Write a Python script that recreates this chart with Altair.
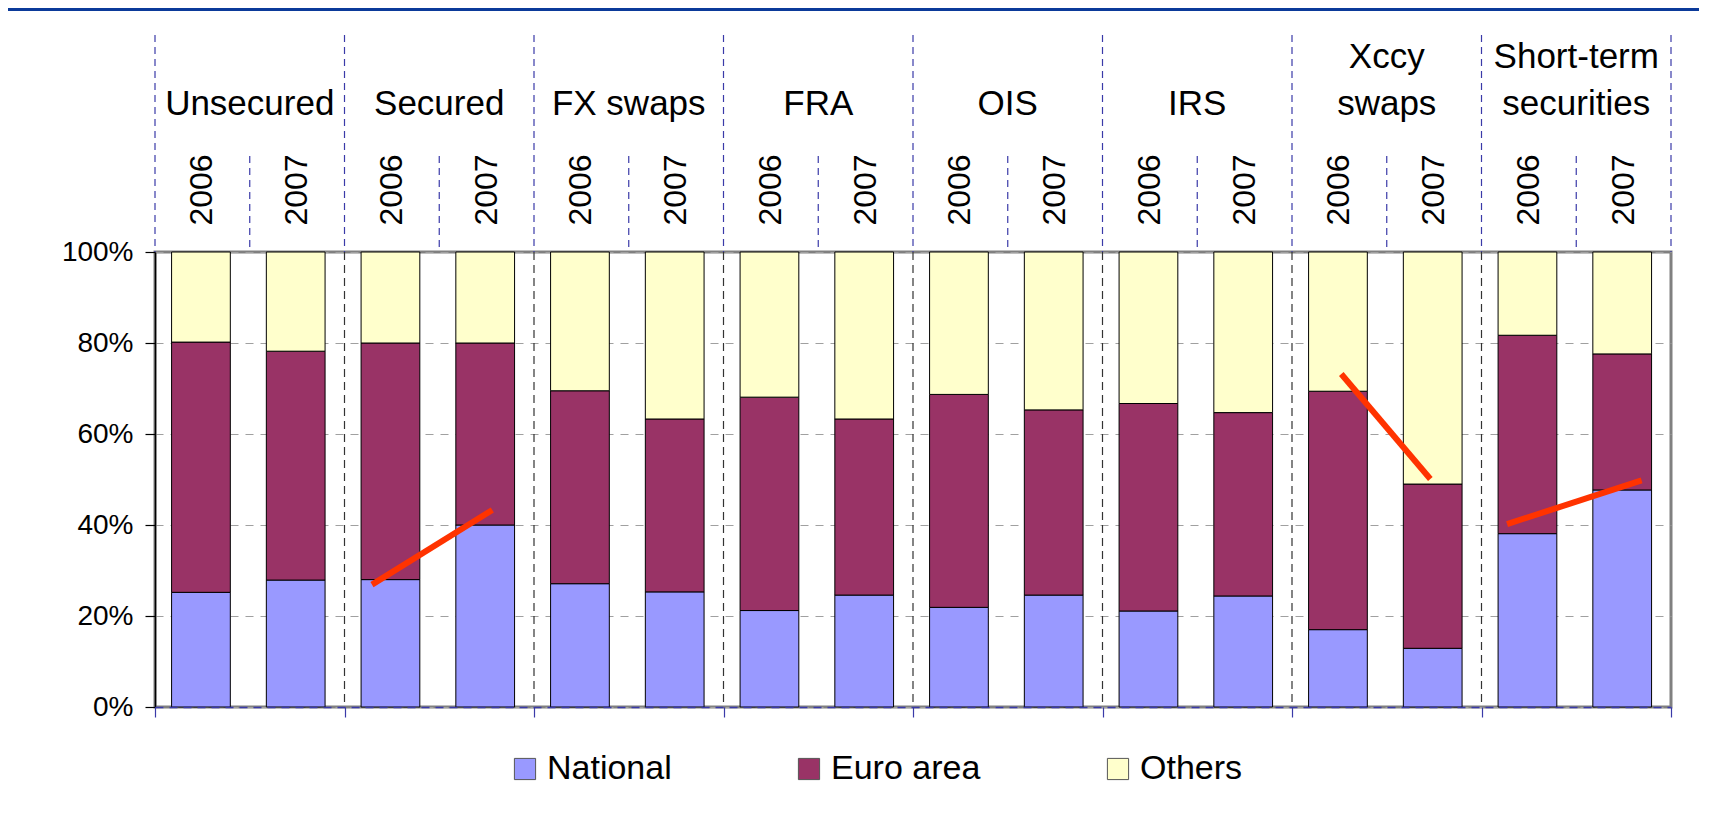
import altair as alt
import pandas as pd

# ---------------- data ----------------
categories = ["Unsecured", "Secured", "FX swaps", "FRA", "OIS", "IRS",
              "Xccy swaps", "Short-term securities"]
header_line1 = ["", "", "", "", "", "", "Xccy", "Short-term"]
header_line2 = ["Unsecured", "Secured", "FX swaps", "FRA", "OIS", "IRS",
                "swaps", "securities"]
years = ["2006", "2007"]
series = ["National", "Euro area", "Others"]
colors = ["#9999FF", "#993366", "#FFFFCC"]

# shares in %, one value per (category, year) in order
national = [25.2, 27.9, 28.0, 40.0, 27.1, 25.3, 21.2, 24.6,
            21.9, 24.6, 21.1, 24.4, 17.0, 12.9, 38.1, 47.7]
euro_area = [55.0, 50.3, 52.0, 40.0, 42.4, 38.0, 46.9, 38.7,
             46.8, 40.7, 45.6, 40.3, 52.4, 36.1, 43.6, 29.9]
others = [19.8, 21.8, 20.0, 20.0, 30.5, 36.7, 31.9, 36.7,
          31.3, 34.7, 33.3, 35.3, 30.6, 51.0, 18.3, 22.4]

# red trend annotations (position in bar slots, value in %)
trend_group = ["Secured", "Secured", "Xccy swaps", "Xccy swaps",
               "Short-term securities", "Short-term securities"]
trend_pos = [2.29, 3.56, 12.52, 13.46, 14.27, 15.69]
trend_val = [26.9, 43.3, 73.2, 50.1, 40.2, 49.8]

# ---------------- tables ----------------
rows = []
for g, cat in enumerate(categories):
    for j, yr in enumerate(years):
        idx = 2 * g + j
        for k, (s, vals) in enumerate(zip(series, [national, euro_area, others])):
            rows.append({"category": cat, "year": yr, "idx": idx,
                         "series": s, "order": k, "value": vals[idx]})
bars_df = pd.DataFrame(rows)

year_df = pd.DataFrame([{"pos": 2 * g + j + 0.5, "year": yr}
                        for g in range(len(categories)) for j, yr in enumerate(years)])
head_df = pd.DataFrame({"pos": [2 * g + 1 for g in range(len(categories))],
                        "l1": header_line1, "l2": header_line2})
group_df = pd.DataFrame({"pos": [2 * g for g in range(len(categories) + 1)]})
inner_df = pd.DataFrame({"pos": [2 * g for g in range(1, len(categories))]})
sub_df = pd.DataFrame({"pos": [2 * g + 1 for g in range(len(categories))]})
trend_df = pd.DataFrame({"group": trend_group, "pos": trend_pos, "val": trend_val})

# ---------------- layout ----------------
W, H = 1516, 455
PAD = {"left": 147, "top": 244, "right": 28, "bottom": 80}
FONT = "Liberation Sans"
BLUE = "#3A3AA8"

xs = alt.Scale(domain=[0, 16], nice=False, zero=False)
ys = alt.Scale(domain=[0, 100], nice=False)

x_axis = alt.Axis(values=list(range(0, 17, 2)), labels=False, title=None, grid=False,
                  tickColor=BLUE, tickSize=10, tickWidth=1.2,
                  domainColor=BLUE, domainDash=[8, 6], domainWidth=1.5, zindex=1)
y_axis = alt.Axis(values=[0, 20, 40, 60, 80, 100], title=None,
                  labelExpr="datum.value + '%'", labelFont=FONT, labelFontSize=28,
                  labelColor="black", labelPadding=12,
                  tickColor="black", tickSize=10, tickWidth=1.2,
                  domainColor="black", domainWidth=1.5,
                  grid=True, gridColor="#A0A0A0", gridDash=[8, 7], gridWidth=1.2)


def X(field):
    return alt.X(field, type="quantitative", scale=xs, axis=x_axis)


bars = alt.Chart(bars_df).transform_stack(
    stack="value", groupby=["idx"], as_=["y0", "y1"],
    sort=[alt.SortField("order", order="ascending")]
).transform_calculate(
    x0="datum.idx + 0.175", x1="datum.idx + 0.795"
).mark_rect(stroke="black", strokeWidth=1).encode(
    x=X("x0"), x2="x1:Q",
    y=alt.Y("y0:Q", scale=ys, axis=y_axis), y2="y1:Q",
    color=alt.Color("series:N",
                    scale=alt.Scale(domain=series, range=colors),
                    sort=series,
                    legend=alt.Legend(orient="none", legendX=353, legendY=500,
                                      direction="horizontal", title=None,
                                      symbolType="square", symbolSize=450,
                                      symbolStrokeColor="#555555", symbolStrokeWidth=1,
                                      symbolOpacity=1,
                                      labelFont=FONT, labelFontSize=34,
                                      labelColor="black", labelOffset=5,
                                      columnPadding=120, labelLimit=400)),
)

inner_rules = alt.Chart(inner_df).mark_rule(color="#333333", strokeWidth=1.2,
                                            strokeDash=[8, 5]).encode(
    x=X("pos"), y=alt.value(0), y2=alt.value(H))

group_rules = alt.Chart(group_df).mark_rule(color=BLUE, strokeWidth=1.2,
                                            strokeDash=[7, 5]).encode(
    x=X("pos"), y=alt.value(-217), y2=alt.value(0))

sub_rules = alt.Chart(sub_df).mark_rule(color=BLUE, strokeWidth=1.2,
                                        strokeDash=[7, 5]).encode(
    x=X("pos"), y=alt.value(-96), y2=alt.value(0))

year_text = alt.Chart(year_df).mark_text(font=FONT, fontSize=32, angle=270,
                                         align="center", baseline="middle",
                                         color="black").encode(
    x=X("pos"), y=alt.value(-62), text="year:N")

head2 = alt.Chart(head_df).mark_text(font=FONT, fontSize=35, align="center",
                                     baseline="middle", color="black").encode(
    x=X("pos"), y=alt.value(-148), text="l2:N")

head1 = alt.Chart(head_df).mark_text(font=FONT, fontSize=35, align="center",
                                     baseline="middle", color="black").encode(
    x=X("pos"), y=alt.value(-195), text="l1:N")

trend = alt.Chart(trend_df).mark_line(color="#FF3300", strokeWidth=6,
                                      strokeCap="butt").encode(
    x=X("pos"), y=alt.Y("val:Q", scale=ys, axis=y_axis), detail="group:N")

top_band = alt.Chart(pd.DataFrame({"a": [0]})).mark_rect(color="#0B3A9A").encode(
    x=alt.value(-PAD["left"]), x2=alt.value(W + PAD["right"]),
    y=alt.value(-PAD["top"]), y2=alt.value(-PAD["top"] + 3))

chart = alt.layer(
    bars, inner_rules, trend, group_rules, sub_rules, year_text, head2, head1, top_band
).properties(
    width=W, height=H,
    autosize=alt.AutoSizeParams(type="none"),
    padding=PAD,
    background="white",
).configure_view(
    stroke="#808080", strokeWidth=3
)

chart.save("out.html", embed_options={"renderer": "svg", "actions": False})
